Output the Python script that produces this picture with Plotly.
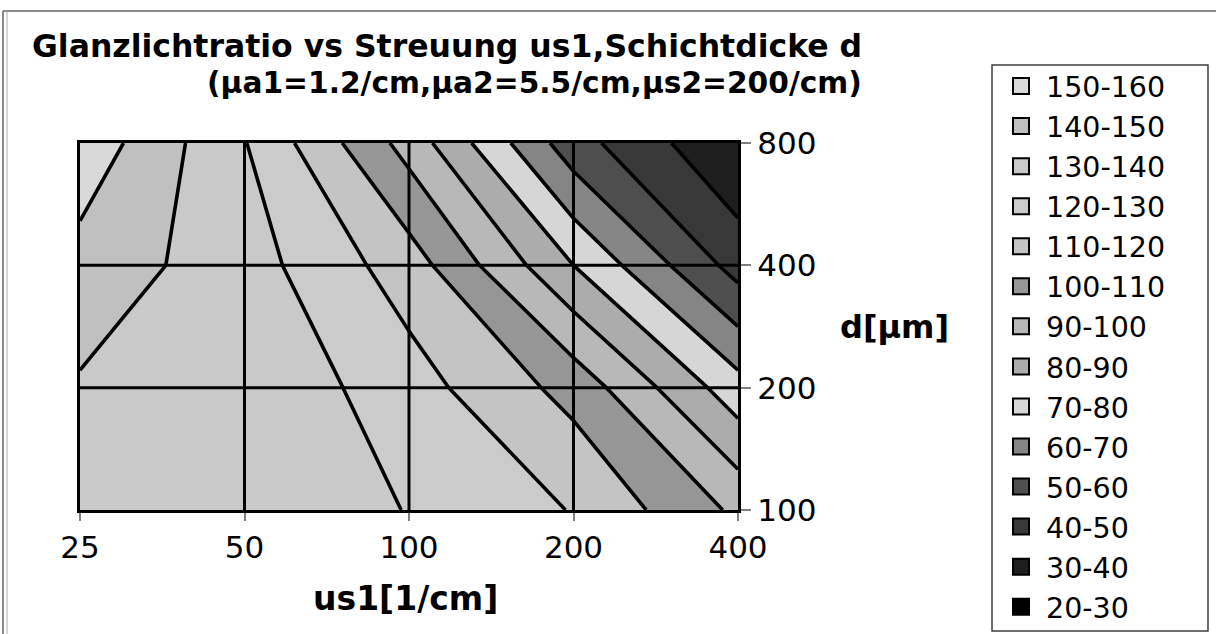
import plotly.graph_objects as go

# ---------------- data ----------------
x_labels = ["25", "50", "100", "200", "400"]          # us1 [1/cm]
y_labels = ["100", "200", "400", "800"]               # d [µm]

# Glanzlichtratio at each grid node (columns follow x_labels)
z_d100 = [136, 134, 129.8, 119.5, 98]
z_d200 = [139, 138.5, 124.3, 106.5, 74]
z_d400 = [146, 134.5, 115, 80, 46]
z_d800 = [157, 130.5, 96, 54, 30.5]

band_labels = ["20-30", "30-40", "40-50", "50-60", "60-70", "70-80", "80-90",
               "90-100", "100-110", "110-120", "120-130", "130-140", "140-150", "150-160"]
band_colors = ["#000000", "#1e1e1e", "#383838", "#4e4e4e", "#858585", "#d6d6d6", "#acacac",
               "#b8b8b8", "#969696", "#c4c4c4", "#cbcbcb", "#c9c9c9", "#c0c0c0", "#d9d9d9"]
level_start, level_end, level_step = 30, 150, 10

title_line1 = "Glanzlichtratio vs Streuung us1,Schichtdicke d"
title_line2 = "(\u03bca1=1.2/cm,\u03bca2=5.5/cm,\u03bcs2=200/cm)"
x_title = "us1[1/cm]"
y_title = "d[\u03bcm]"

# ---------------- geometry helpers (pixel -> paper) ----------------
W, H = 1216, 634
L, R, T, B = 80, 738, 143, 510
def px(x):
    return (x - L) / (R - L)
def py(y):
    return (B - y) / (B - T)

FONT = "DejaVu Sans"

fig = go.Figure()

n = len(band_colors)
fig.add_trace(go.Contour(
    x=list(range(len(x_labels))),
    y=list(range(len(y_labels))),
    z=[z_d100, z_d200, z_d400, z_d800],
    contours=dict(start=level_start, end=level_end, size=level_step,
                  coloring="fill", showlines=True),
    line=dict(color="black", width=3.6, smoothing=0),
    colorscale=[[k / (n - 1), c] for k, c in enumerate(band_colors)],
    showscale=False, hoverinfo="skip", showlegend=False,
))

# legend entries (top = highest band)
for label, color in zip(reversed(band_labels), reversed(band_colors)):
    fig.add_trace(go.Scatter(
        x=[None], y=[None], mode="markers", name=label,
        marker=dict(symbol="square", size=16, color=color,
                    line=dict(color="black", width=2)),
        hoverinfo="skip", showlegend=True,
    ))

shapes = []
# internal grid lines drawn above the fills
for i in range(1, len(x_labels) - 1):
    shapes.append(dict(type="line", xref="x", yref="paper", x0=i, x1=i, y0=0, y1=1,
                       line=dict(color="black", width=3), layer="above"))
for j in range(1, len(y_labels) - 1):
    shapes.append(dict(type="line", xref="paper", yref="y", x0=0, x1=1, y0=j, y1=j,
                       line=dict(color="black", width=3), layer="above"))
# legend box
shapes.append(dict(type="rect", xref="paper", yref="paper",
                   x0=px(992), x1=px(1208), y0=py(631), y1=py(65),
                   line=dict(color="#404040", width=1.5), fillcolor="rgba(0,0,0,0)", layer="above"))
# outer chart frame
shapes.append(dict(type="line", xref="paper", yref="paper",
                   x0=px(3), x1=px(1230), y0=py(11), y1=py(11),
                   line=dict(color="#8a8a8a", width=2), layer="above"))
shapes.append(dict(type="line", xref="paper", yref="paper",
                   x0=px(3), x1=px(3), y0=py(11), y1=py(650),
                   line=dict(color="#8a8a8a", width=2), layer="above"))
shapes.append(dict(type="line", xref="paper", yref="paper",
                   x0=px(7), x1=px(7), y0=py(11), y1=py(650),
                   line=dict(color="#b0b0b0", width=1), layer="above"))

annotations = [
    dict(text=title_line1, xref="paper", yref="paper", x=px(30), y=py(46),
         xanchor="left", yanchor="middle", showarrow=False,
         font=dict(family=FONT, size=31.5, color="black", weight="bold")),
    dict(text=title_line2, xref="paper", yref="paper", x=px(205), y=py(82),
         xanchor="left", yanchor="middle", showarrow=False,
         font=dict(family=FONT, size=29.7, color="black", weight="bold")),
    dict(text=x_title, xref="paper", yref="paper", x=px(405), y=py(598),
         xanchor="center", yanchor="middle", showarrow=False,
         font=dict(family=FONT, size=33, color="black", weight="bold")),
    dict(text=y_title, xref="paper", yref="paper", x=px(894), y=py(327),
         xanchor="center", yanchor="middle", showarrow=False,
         font=dict(family=FONT, size=32, color="black", weight="bold")),
]

fig.update_layout(
    width=W, height=H,
    margin=dict(l=L, r=W - R, t=T, b=H - B, pad=0),
    paper_bgcolor="white", plot_bgcolor="white",
    font=dict(family=FONT, color="black"),
    xaxis=dict(range=[0, len(x_labels) - 1],
               tickmode="array", tickvals=list(range(len(x_labels))), ticktext=x_labels,
               ticks="outside", ticklen=8, tickwidth=1.5, tickcolor="#808080",
               tickfont=dict(family=FONT, size=31, color="black"),
               showgrid=False, zeroline=False,
               showline=True, mirror=True, linecolor="black", linewidth=3),
    yaxis=dict(range=[0, len(y_labels) - 1], side="right",
               tickmode="array", tickvals=list(range(len(y_labels))), ticktext=y_labels,
               ticks="outside", ticklen=10, tickwidth=1.5, tickcolor="#808080",
               tickfont=dict(family=FONT, size=31, color="black"),
               showgrid=False, zeroline=False,
               showline=True, mirror=True, linecolor="black", linewidth=3),
    showlegend=True,
    legend=dict(x=px(996), y=py(61), xanchor="left", yanchor="top",
                bgcolor="rgba(0,0,0,0)", borderwidth=0, maxheight=600,
                font=dict(family=FONT, size=28.5, color="black"),
                itemwidth=40, traceorder="normal", tracegroupgap=0),
    shapes=shapes,
    annotations=annotations,
)

fig.write_html("out.html")
